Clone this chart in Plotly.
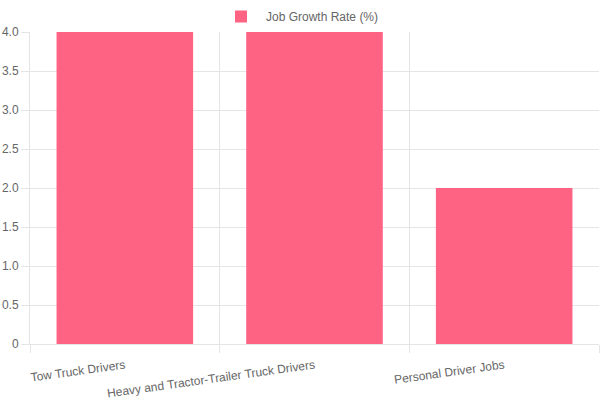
import plotly.graph_objects as go

categories = ["Tow Truck Drivers", "Heavy and Tractor-Trailer Truck Drivers", "Personal Driver Jobs"]
growth = [4.0, 4.0, 2.0]
y_ticks = [0, 0.5, 1.0, 1.5, 2.0, 2.5, 3.0, 3.5, 4.0]
y_labels = ["0", "0.5", "1.0", "1.5", "2.0", "2.5", "3.0", "3.5", "4.0"]

fig = go.Figure()
fig.add_trace(go.Bar(x=categories, y=growth, name="Job Growth Rate (%)",
                     marker=dict(color="#ff6384", line=dict(width=0))))

fig.update_layout(
    width=600, height=400,
    margin=dict(l=30, r=1, t=32, b=56, autoexpand=False),
    plot_bgcolor="white", paper_bgcolor="white",
    font=dict(family="Liberation Sans, Arial, sans-serif", size=12, color="#666"),
    bargap=0.28,
    showlegend=True,
    legend=dict(orientation="h", xref="container", yref="container",
                x=0.5, xanchor="center", y=0.995, yanchor="top",
                itemwidth=40,
                font=dict(size=12, color="#666")),
)
fig.update_xaxes(tickson="boundaries", showgrid=True, gridcolor="#e5e5e5",
                 ticks="outside", ticklen=8, tickcolor="#e5e5e5",
                 showline=True, linecolor="#e5e5e5", tickangle=-8,
                 ticklabelstandoff=9, automargin=False,
                 tickfont=dict(size=12, color="#666"))
fig.update_yaxes(range=[0, 4], tickvals=y_ticks, ticktext=y_labels,
                 showgrid=True, gridcolor="#e5e5e5", zeroline=False,
                 ticks="outside", ticklen=8, tickcolor="#e5e5e5",
                 showline=True, linecolor="#e5e5e5", automargin=False,
                 tickfont=dict(size=12, color="#666"))

# drop the browser's default page margin so the figure sits at 0,0
fig.write_html("out.html", config={"displayModeBar": False},
               post_script="document.body.style.margin='0';")
